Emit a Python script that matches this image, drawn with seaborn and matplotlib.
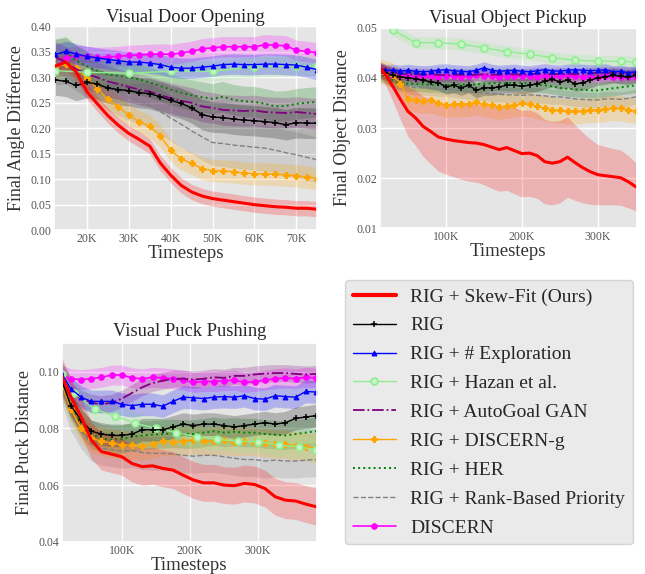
import numpy as np
import seaborn as sns
import matplotlib.pyplot as plt
from matplotlib.ticker import FuncFormatter

# legend order
labels = ["RIG + Skew-Fit (Ours)", "RIG", "RIG + # Exploration", "RIG + Hazan et al.",
          "RIG + AutoGoal GAN", "RIG + DISCERN-g", "RIG + HER",
          "RIG + Rank-Based Priority", "DISCERN"]

# ---------------- Visual Door Opening (x in K timesteps) ----------------
door_x = [12.5, 15, 17.5, 20, 22.5, 25, 27.5, 30, 32.5, 35, 37.5, 40, 42.5, 45, 47.5,
          50, 52.5, 55, 57.5, 60, 62.5, 65, 67.5, 70, 72.5, 75]
door_skew = [0.322, 0.33, 0.31, 0.272, 0.248, 0.225, 0.206, 0.19, 0.178, 0.165, 0.132, 0.108, 0.088,
             0.075, 0.067, 0.062, 0.059, 0.056, 0.053, 0.05, 0.048, 0.046, 0.045, 0.043, 0.043, 0.041]
door_rig = [0.295, 0.292, 0.284, 0.29, 0.287, 0.279, 0.276, 0.274, 0.27, 0.268, 0.262, 0.255, 0.249,
            0.24, 0.227, 0.222, 0.221, 0.218, 0.216, 0.215, 0.213, 0.211, 0.207, 0.211, 0.21, 0.21]
door_expl = [0.345, 0.351, 0.346, 0.341, 0.338, 0.335, 0.333, 0.33, 0.33, 0.328, 0.325, 0.32, 0.318,
             0.318, 0.32, 0.322, 0.325, 0.326, 0.325, 0.325, 0.326, 0.326, 0.325, 0.324, 0.32, 0.315]
door_hazan_x = [12.5, 20, 30, 40, 50, 60, 70, 75]
door_hazan = [0.313, 0.31, 0.308, 0.312, 0.312, 0.32, 0.323, 0.322]
door_gan = [0.34, 0.33, 0.316, 0.306, 0.3, 0.292, 0.287, 0.281, 0.276, 0.272, 0.265, 0.259, 0.254,
            0.25, 0.243, 0.24, 0.236, 0.235, 0.234, 0.235, 0.232, 0.231, 0.23, 0.232, 0.23, 0.228]
door_discg = [0.32, 0.327, 0.318, 0.298, 0.278, 0.257, 0.242, 0.226, 0.213, 0.204, 0.185, 0.157, 0.14,
              0.131, 0.121, 0.117, 0.116, 0.115, 0.112, 0.111, 0.11, 0.11, 0.108, 0.107, 0.104, 0.101]
door_her = [0.345, 0.35, 0.332, 0.322, 0.312, 0.306, 0.303, 0.3, 0.296, 0.29, 0.283, 0.276, 0.27,
            0.265, 0.261, 0.258, 0.262, 0.256, 0.253, 0.252, 0.248, 0.243, 0.244, 0.248, 0.25, 0.252]
door_rank = [0.33, 0.332, 0.318, 0.305, 0.293, 0.281, 0.27, 0.261, 0.254, 0.245, 0.233, 0.22, 0.208,
             0.195, 0.183, 0.172, 0.17, 0.167, 0.165, 0.163, 0.161, 0.157, 0.152, 0.148, 0.143, 0.138]
door_disc = [0.32, 0.337, 0.343, 0.341, 0.339, 0.34, 0.341, 0.343, 0.344, 0.345, 0.346, 0.345, 0.348,
             0.351, 0.356, 0.358, 0.36, 0.36, 0.36, 0.36, 0.364, 0.363, 0.362, 0.353, 0.351, 0.348]
door_band = [0.015, 0.03, 0.02, 0.02, 0.03, 0.022, 0.03, 0.045, 0.02]

# ---------------- Visual Object Pickup ----------------
pick_x = list(range(10, 351, 10))
pick_skew = [0.0425, 0.0407, 0.0383, 0.0357, 0.0333, 0.032, 0.0303, 0.0293, 0.0282, 0.0278, 0.0275,
             0.0273, 0.0271, 0.027, 0.0267, 0.0262, 0.0257, 0.0261, 0.0255, 0.0249, 0.025, 0.0245,
             0.0233, 0.023, 0.0233, 0.0242, 0.0231, 0.0221, 0.0213, 0.0207, 0.0205, 0.0203, 0.0201,
             0.0193, 0.0183]
pick_skew_band = [0.001, 0.002, 0.003, 0.004, 0.005, 0.0055, 0.006, 0.0065, 0.0068, 0.007, 0.0072,
                  0.0075, 0.0077, 0.0078, 0.008, 0.0082, 0.0083, 0.0085, 0.0086, 0.0086, 0.0086, 0.0085,
                  0.0084, 0.0083, 0.0082, 0.008, 0.0075, 0.007, 0.0065, 0.006, 0.0058, 0.0056, 0.0055,
                  0.0052, 0.0048]
pick_rig = [0.0415, 0.041, 0.0405, 0.0402, 0.04, 0.0398, 0.0395, 0.0392, 0.039, 0.0382, 0.0385, 0.038,
            0.0385, 0.0375, 0.038, 0.038, 0.0382, 0.0385, 0.0385, 0.0383, 0.0385, 0.0388, 0.0393, 0.0397,
            0.0392, 0.0395, 0.0388, 0.039, 0.0395, 0.04, 0.0402, 0.0405, 0.0403, 0.0401, 0.0405]
pick_expl = [0.042, 0.0415, 0.0415, 0.0413, 0.0415, 0.0413, 0.0412, 0.0413, 0.0415, 0.0416, 0.0414,
             0.0413, 0.0412, 0.0415, 0.042, 0.0415, 0.0413, 0.0414, 0.0415, 0.0413, 0.0412, 0.0414,
             0.0416, 0.0414, 0.0413, 0.0415, 0.0416, 0.0415, 0.0414, 0.0415, 0.0416, 0.0412, 0.0413,
             0.041, 0.0412]
pick_hazan_x = [30, 60, 90, 120, 150, 180, 210, 240, 270, 300, 330, 350]
pick_hazan = [0.0495, 0.047, 0.047, 0.0467, 0.046, 0.0452, 0.0447, 0.044, 0.0435, 0.0433, 0.0433, 0.0431]
pick_gan = [0.042, 0.0412, 0.041, 0.0408, 0.0407, 0.0407, 0.0406, 0.0407, 0.0406, 0.0405, 0.0406,
            0.0406, 0.0405, 0.0406, 0.0407, 0.0406, 0.0406, 0.0407, 0.0407, 0.0406, 0.0407, 0.0408,
            0.0408, 0.0407, 0.0408, 0.0408, 0.0407, 0.0408, 0.0409, 0.041, 0.041, 0.041, 0.041, 0.041, 0.041]
pick_discg = [0.0415, 0.041, 0.0405, 0.0388, 0.0358, 0.0356, 0.0354, 0.0355, 0.035, 0.0346, 0.0347,
              0.0347, 0.0348, 0.0351, 0.0347, 0.0345, 0.0342, 0.0344, 0.0346, 0.0349, 0.0347, 0.0343,
              0.0339, 0.0336, 0.0335, 0.0333, 0.0333, 0.0334, 0.0336, 0.0336, 0.0338, 0.034, 0.0339,
              0.0336, 0.0334]
pick_her = [0.041, 0.0405, 0.0395, 0.039, 0.0388, 0.0388, 0.0387, 0.0386, 0.0386, 0.0385, 0.0386,
            0.0387, 0.0386, 0.0387, 0.0388, 0.0389, 0.039, 0.0389, 0.0389, 0.039, 0.0388, 0.0386,
            0.0385, 0.0383, 0.038, 0.0378, 0.0377, 0.0376, 0.0375, 0.0375, 0.0377, 0.0379, 0.0381,
            0.0383, 0.0385]
pick_rank = [0.041, 0.0403, 0.0395, 0.0388, 0.0383, 0.038, 0.038, 0.038, 0.0378, 0.0378, 0.0376,
             0.0374, 0.0372, 0.037, 0.037, 0.0368, 0.0367, 0.0366, 0.0366, 0.0365, 0.0366, 0.0365,
             0.0364, 0.0362, 0.0362, 0.036, 0.0358, 0.0357, 0.0356, 0.0356, 0.0358, 0.0358, 0.0357,
             0.0359, 0.0362]
pick_disc = [0.0415, 0.041, 0.0405, 0.0405, 0.0403, 0.0402, 0.0403, 0.0403, 0.0402, 0.0404, 0.0403,
             0.0402, 0.0403, 0.0405, 0.0404, 0.0403, 0.0402, 0.0403, 0.0403, 0.0404, 0.0403, 0.0402,
             0.0403, 0.0402, 0.0403, 0.0404, 0.0403, 0.0402, 0.0401, 0.0402, 0.0403, 0.0402, 0.0401,
             0.0402, 0.0402]
pick_band = [pick_skew_band, 0.0015, 0.0012, 0.0012, 0.0012, 0.0025, 0.0015, 0.0015, 0.0012]

# ---------------- Visual Puck Pushing ----------------
puck_x = list(range(10, 386, 15))
puck_skew = [0.0994, 0.0912, 0.0841, 0.0759, 0.0718, 0.0709, 0.07, 0.0676, 0.0665, 0.0668, 0.0659,
             0.0653, 0.0635, 0.0618, 0.0608, 0.0608, 0.06, 0.0598, 0.0606, 0.0602, 0.0588, 0.0559,
             0.0547, 0.0544, 0.0533, 0.0524]
puck_rig = [0.098, 0.088, 0.083, 0.079, 0.078, 0.0775, 0.0775, 0.078, 0.0795, 0.0795, 0.0795, 0.0805,
            0.0815, 0.081, 0.0815, 0.0815, 0.081, 0.0805, 0.081, 0.0815, 0.082, 0.0815, 0.082, 0.0835,
            0.084, 0.0845]
puck_expl = [0.1, 0.094, 0.091, 0.0895, 0.0895, 0.0895, 0.0885, 0.088, 0.0885, 0.0885, 0.0878, 0.0895,
             0.091, 0.0908, 0.0905, 0.091, 0.0912, 0.091, 0.0915, 0.0905, 0.0903, 0.0915, 0.0912,
             0.091, 0.093, 0.0928]
puck_hazan_x = [12, 30, 60, 90, 120, 150, 180, 210, 240, 270, 300, 330, 360, 385]
puck_hazan = [0.099, 0.0926, 0.0867, 0.0844, 0.0818, 0.08, 0.0785, 0.0771, 0.0761, 0.0755, 0.0753,
              0.0741, 0.0735, 0.0725]
puck_gan = [0.099, 0.093, 0.0905, 0.089, 0.0885, 0.089, 0.0905, 0.0925, 0.0945, 0.096, 0.0968, 0.0975,
            0.0975, 0.0972, 0.0975, 0.098, 0.0978, 0.0985, 0.0985, 0.099, 0.0993, 0.0995, 0.0995,
            0.0992, 0.099, 0.0992]
puck_discg = [0.097, 0.087, 0.08, 0.0765, 0.0755, 0.0748, 0.0742, 0.074, 0.0738, 0.0745, 0.0755,
              0.0752, 0.0755, 0.076, 0.0755, 0.0755, 0.0758, 0.0752, 0.0755, 0.0752, 0.075, 0.0745,
              0.0745, 0.0738, 0.0735, 0.073]
puck_her = [0.097, 0.088, 0.082, 0.078, 0.0765, 0.076, 0.0762, 0.077, 0.0775, 0.0778, 0.078, 0.0782,
            0.078, 0.078, 0.0785, 0.079, 0.0785, 0.0788, 0.0785, 0.0785, 0.078, 0.0778, 0.0775, 0.078,
            0.0785, 0.079]
puck_rank = [0.096, 0.085, 0.079, 0.0745, 0.073, 0.0725, 0.072, 0.0722, 0.0715, 0.0712, 0.0712, 0.071,
             0.0705, 0.0702, 0.0705, 0.0705, 0.07, 0.0695, 0.069, 0.069, 0.0685, 0.0688, 0.0685,
             0.0685, 0.0688, 0.069]
puck_disc = [0.099, 0.0975, 0.0972, 0.0975, 0.098, 0.0988, 0.0988, 0.0978, 0.0975, 0.098, 0.0978,
             0.0975, 0.097, 0.0962, 0.0965, 0.0965, 0.0968, 0.097, 0.0962, 0.0965, 0.097, 0.0975,
             0.0978, 0.0975, 0.098, 0.0978]
puck_band = [0.0065, 0.004, 0.004, 0.004, 0.003, 0.005, 0.005, 0.006, 0.0035]

# line styles per method (same order as labels)
styles = [
    dict(color="red", lw=2.2),
    dict(color="black", lw=1, marker="+", markersize=5, markeredgewidth=1.1, markeredgecolor="black"),
    dict(color="blue", lw=1, marker="^", markersize=3.5, markeredgecolor="blue"),
    dict(color="#90ee90", lw=1, marker="o", markersize=5, markerfacecolor="#c4f5c4",
         markeredgecolor="#90ee90", markeredgewidth=1.2),
    dict(color="purple", lw=1.3, linestyle="-."),
    dict(color="orange", lw=1, marker="P", markersize=4.5, markeredgecolor="orange"),
    dict(color="green", lw=1.4, linestyle=":"),
    dict(color="gray", lw=1, linestyle="--"),
    dict(color="magenta", lw=1.2, marker="o", markersize=4, markeredgecolor="magenta"),
]

sns.set_theme(style="darkgrid", rc={"axes.facecolor": "#e5e5e5", "grid.color": "white",
                                    "grid.linewidth": 1.0})
plt.rcParams["font.family"] = ["Liberation Serif", "DejaVu Serif"]

fig = plt.figure(figsize=(6.45, 5.74), dpi=100)
ax_door = fig.add_axes([0.084, 0.599, 0.408, 0.355])
ax_pick = fig.add_axes([0.589, 0.602, 0.398, 0.350])
ax_puck = fig.add_axes([0.096, 0.056, 0.395, 0.346])


def draw(ax, x, hx, series, bands):
    order = list(range(len(series)))[::-1]  # red on top
    for i in order:
        xs = hx if i == 3 else x
        y = np.array(series[i])
        b = np.broadcast_to(np.array(bands[i]), y.shape)
        ax.fill_between(xs, y - b, y + b, color=styles[i]["color"], alpha=0.22, lw=0)
    for i in order:
        xs = hx if i == 3 else x
        sns.lineplot(x=xs, y=series[i], ax=ax, label=labels[i], errorbar=None,
                     sort=False, **styles[i])
    ax.get_legend().remove()


draw(ax_door, door_x, door_hazan_x,
     [door_skew, door_rig, door_expl, door_hazan, door_gan, door_discg, door_her, door_rank, door_disc],
     door_band)
draw(ax_pick, pick_x, pick_hazan_x,
     [pick_skew, pick_rig, pick_expl, pick_hazan, pick_gan, pick_discg, pick_her, pick_rank, pick_disc],
     pick_band)
draw(ax_puck, puck_x, puck_hazan_x,
     [puck_skew, puck_rig, puck_expl, puck_hazan, puck_gan, puck_discg, puck_her, puck_rank, puck_disc],
     puck_band)

kfmt = FuncFormatter(lambda v, p: f"{v:.0f}K")

ax_door.set_xlim(12.2, 75)
ax_door.set_ylim(0, 0.40)
ax_door.set_xticks([20, 30, 40, 50, 60, 70])
ax_door.set_yticks(np.arange(0, 0.41, 0.05))
ax_door.yaxis.set_major_formatter(FuncFormatter(lambda v, p: f"{v:.2f}"))
ax_door.set_title("Visual Door Opening", fontsize=13.3, pad=3)
ax_door.set_ylabel("Final Angle Difference", fontsize=13)

ax_pick.set_xlim(13, 351)
ax_pick.set_ylim(0.01, 0.05)
ax_pick.set_xticks([100, 200, 300])
ax_pick.set_yticks([0.01, 0.02, 0.03, 0.04, 0.05])
ax_pick.yaxis.set_major_formatter(FuncFormatter(lambda v, p: f"{v:.2f}"))
ax_pick.set_title("Visual Object Pickup", fontsize=13.3, pad=3)
ax_pick.set_ylabel("Final Object Distance", fontsize=13)

ax_puck.set_xlim(12, 386)
ax_puck.set_ylim(0.04, 0.11)
ax_puck.set_xticks([100, 200, 300])
ax_puck.set_yticks([0.04, 0.06, 0.08, 0.10])
ax_puck.yaxis.set_major_formatter(FuncFormatter(lambda v, p: f"{v:.2f}"))
ax_puck.set_title("Visual Puck Pushing", fontsize=13.3, pad=5)
ax_puck.set_ylabel("Final Puck Distance", fontsize=13)

for ax in (ax_door, ax_pick, ax_puck):
    ax.xaxis.set_major_formatter(kfmt)
    ax.set_xlabel("Timesteps", fontsize=13.5, color="#333333", labelpad=0)
    ax.yaxis.label.set_color("#333333")
    ax.tick_params(labelsize=8.5, colors="#555555", length=0, pad=2)

handles, labs = ax_door.get_legend_handles_labels()
hmap = dict(zip(labs, handles))
leg = fig.legend([hmap[l] for l in labels], labels, loc="upper left",
                 bbox_to_anchor=(0.535, 0.512), borderaxespad=0, fontsize=14, frameon=True,
                 facecolor="#e5e5e5", edgecolor="#cccccc", handlelength=2.2,
                 labelspacing=0.58, borderpad=0.4, handletextpad=0.75, numpoints=1)
for line in leg.get_lines():
    if line.get_color() == "red":
        line.set_linewidth(3)

fig.savefig("out.png", dpi=100)
